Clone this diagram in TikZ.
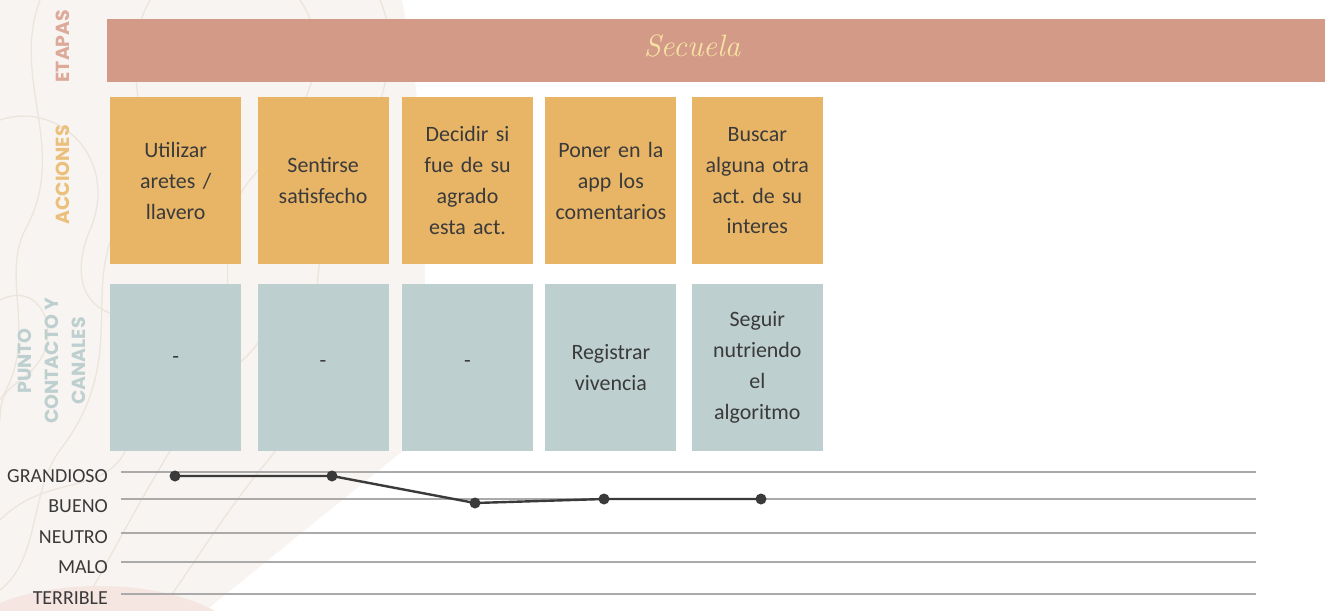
\documentclass[tikz,border=0pt]{standalone}
\usepackage{fontspec}
\setmainfont{Carlito}
\newfontfamily\headfont{Poppins}
\newfontfamily\secfont{Latin Modern Roman}
\usetikzlibrary{positioning}

\definecolor{fondo}{HTML}{F8F4F1}
\definecolor{curva}{HTML}{ECE5DC}
\definecolor{manchon}{HTML}{F5E6E1}
\definecolor{etapa}{HTML}{D39A88}
\definecolor{etapatxt}{HTML}{DDAA9A}
\definecolor{accion}{HTML}{E8B567}
\definecolor{acciontxt}{HTML}{EBC07C}
\definecolor{canal}{HTML}{BDCFCE}
\definecolor{canaltxt}{HTML}{BDD0CF}
\definecolor{secuela}{HTML}{F7E3A3}
\definecolor{tinta}{HTML}{3A3A3A}
\definecolor{escala}{HTML}{AAAAAA}

\frenchspacing
\begin{document}
\begin{tikzpicture}[x=1bp, y=-1bp, node distance=16bp]

            \tikzstyle{accionbox} = [rectangle, minimum width=131bp, minimum height=167bp, text width=125bp, align=center, inner sep=0pt, fill=accion, text=tinta, font=\fontsize{22}{31}\selectfont]
            \tikzstyle{canalbox} = [rectangle, minimum width=131bp, minimum height=167bp, text width=125bp, align=center, inner sep=0pt, fill=canal, text=tinta, font=\fontsize{22}{31}\selectfont]
            \tikzstyle{fila} = [rotate=90, align=center, font=\headfont\bfseries\fontsize{19}{27}\selectfont]
            \tikzstyle{nivel} = [anchor=east, inner sep=0pt, text=tinta, font=\fontsize{20}{22}\selectfont]
            \tikzstyle{linea} = [draw=escala, line width=1.5bp]
            \tikzstyle{punto} = [circle, fill=tinta, inner sep=0pt, minimum size=11bp]
            \tikzstyle{curvas} = [draw=curva, line width=1.3bp]

            % Fondo
            \useasboundingbox (0,0) rectangle (1325,611);
            \fill[white] (0,0) rectangle (1325,611);
            \fill[fondo] (0,0) -- (402,0) .. controls (432,150) and (426,300) .. (420,437) -- (205,611) -- (0,611) -- cycle;
            \begin{scope}
            \clip (0,0) -- (402,0) .. controls (432,150) and (426,300) .. (420,437) -- (205,611) -- (0,611) -- cycle;
            \draw[curvas] (40,0) .. controls (10,80) and (70,150) .. (25,230) .. controls (0,280) and (40,340) .. (0,400);
            \draw[curvas] (150,0) .. controls (110,70) and (170,140) .. (120,220) .. controls (80,290) and (130,360) .. (60,450) .. controls (30,490) and (40,560) .. (0,590);
            \draw[curvas] (300,0) .. controls (340,60) and (300,120) .. (250,180) .. controls (200,240) and (260,320) .. (190,420) .. controls (150,480) and (120,540) .. (80,611);
            \draw[curvas] (380,0) .. controls (410,70) and (360,150) .. (330,220) .. controls (300,300) and (340,380) .. (260,470) .. controls (220,520) and (190,570) .. (160,611);
            \draw[curvas] (0,120) .. controls (60,100) and (120,160) .. (90,230) .. controls (60,300) and (110,340) .. (180,300);
            \draw[curvas] (0,300) .. controls (40,280) and (60,330) .. (40,360) .. controls (20,390) and (0,380) .. (0,420);
            \draw[curvas] (0,520) .. controls (50,470) and (110,500) .. (130,440) .. controls (150,380) and (220,400) .. (260,340);
            \end{scope}
            \fill[manchon] (0,603) .. controls (50,582) and (150,576) .. (215,611) -- (0,611) -- cycle;

            % Nodes
            \node (secuela) [rectangle, fill=etapa, minimum width=1218bp, minimum height=63bp, inner sep=0pt, anchor=north west] at (107,19) {};
            \node (titulo) [text=secuela, font=\secfont\itshape\fontsize{31}{33}\selectfont] at (692,46) {Secuela};

            \node (etapas) [fila, text=etapatxt] at (63,46) {ETAPAS};
            \node (acciones) [fila, text=acciontxt] at (63,175) {ACCIONES};
            \node (canales) [fila, text=canaltxt] at (52,361) {PUNTO\\CONTACTO Y\\CANALES};

            \node (a1) [accionbox, anchor=north west] at (110,97) {Utilizar\\aretes /\\llavero};
            \node (a2) [accionbox, right=16bp of a1] {Sentirse\\satisfecho};
            \node (a3) [accionbox, right=13bp of a2] {Decidir si\\fue de su\\agrado\\esta act.};
            \node (a4) [accionbox, right=12bp of a3] {Poner en la\\app los\\comentarios};
            \node (a5) [accionbox, right=15bp of a4] {Buscar\\alguna otra\\act. de su\\interes};

            \node (c1) [canalbox, below=19bp of a1] {\raisebox{14bp}{-}};
            \node (c2) [canalbox, below=19bp of a2] {\raisebox{7bp}{-}};
            \node (c3) [canalbox, below=19bp of a3] {\raisebox{7bp}{-}};
            \node (c4) [canalbox, below=19bp of a4] {Registrar\\vivencia};
            \node (c5) [canalbox, below=19bp of a5] {Seguir\\nutriendo\\el\\algoritmo};

            % Escala
            \foreach \nom/\y in {grandioso/472, bueno/499, neutro/533, malo/562, terrible/594} {
                \coordinate (\nom-i) at (121,\y);
                \coordinate (\nom-f) at (1256,\y);
                \draw[linea] (\nom-i) -- (\nom-f);
            }
            \node (g) [nivel] at (108,476) {GRANDIOSO};
            \node (b) [nivel] at (108,506) {BUENO};
            \node (n) [nivel] at (108,537) {NEUTRO};
            \node (m) [nivel] at (108,567) {MALO};
            \node (t) [nivel] at (108,598) {TERRIBLE};

            % Curva de experiencia
            \node (p1) [punto] at (175,476) {};
            \node (p2) [punto] at (332,476) {};
            \node (p3) [punto] at (475,503) {};
            \node (p4) [punto] at (604,499) {};
            \node (p5) [punto] at (761,499) {};
            \draw [tinta, line width=2.4bp] (p1.center) -- (p2.center) -- (p3.center) -- (p4.center) -- (p5.center);

\end{tikzpicture}
\end{document}
